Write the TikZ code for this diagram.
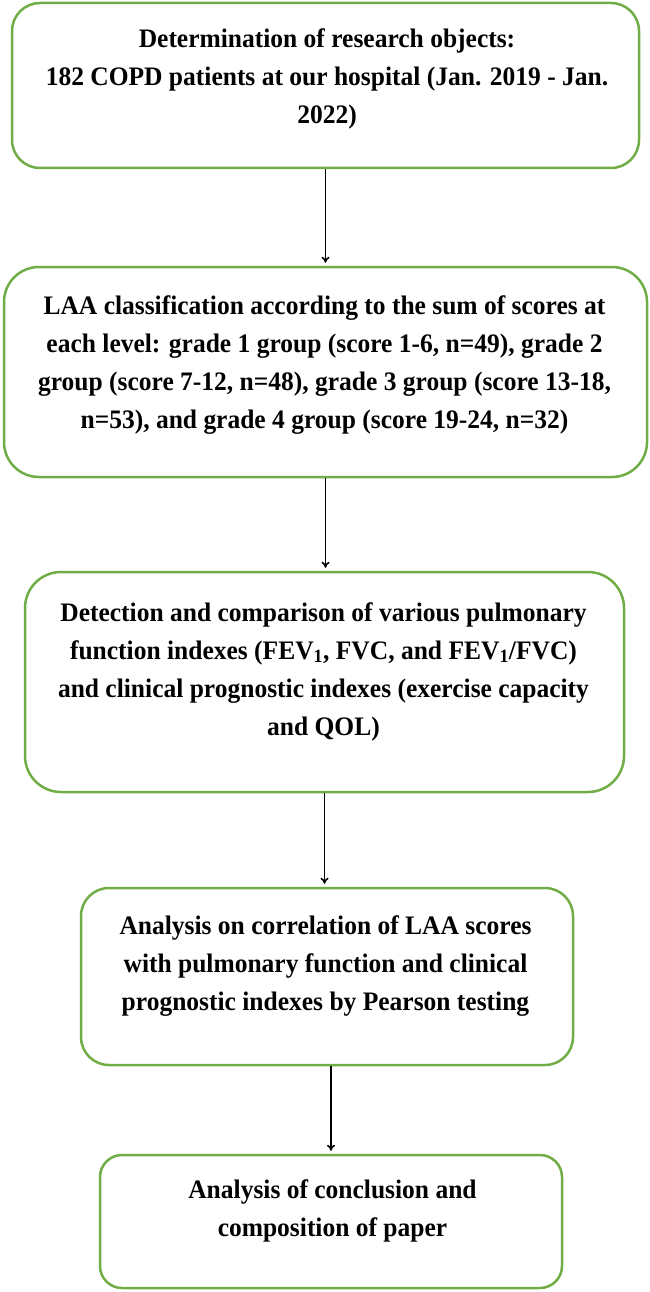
\documentclass[tikz,border=0pt]{standalone}
\usepackage{fontspec}
\setmainfont[FakeStretch=0.955]{Liberation Serif}
\usetikzlibrary{arrows.meta,positioning}

\begin{document}
\begin{tikzpicture}
			\definecolor{boxGreen}{RGB}{112, 173, 71}
			\tikzstyle{stage}=[rectangle, draw, color=boxGreen, line width=2.5pt, rounded corners=28pt, inner sep=0pt]
			\tikzstyle{words}=[align=center, inner sep=0pt, font=\fontsize{26.7pt}{38pt}\selectfont\bfseries]

			\useasboundingbox (0pt,0pt) rectangle (650pt,-1292pt);

			\node [stage, minimum width=627pt, minimum height=165pt, xshift=325.5pt, yshift=-85.5pt] (a) {};
			\node [stage, minimum width=643pt, minimum height=210pt, rounded corners=35pt, xshift=325.5pt, yshift=-372pt] (b) {};
			\node [stage, minimum width=599pt, minimum height=220pt, rounded corners=36pt, xshift=324.5pt, yshift=-682pt] (c) {};
			\node [stage, minimum width=492pt, minimum height=177pt, xshift=327pt, yshift=-976.5pt] (d) {};
			\node [stage, minimum width=462pt, minimum height=133pt, rounded corners=22pt, xshift=331pt, yshift=-1221.5pt] (e) {};

			\node [words, xshift=327pt, yshift=-79pt] (A) {Determination of research objects:\\182 COPD patients at our hospital (Jan. 2019 - Jan.\\2022)};
			\node [words, xshift=324.5pt, yshift=-365.5pt] (B) {LAA classification according to the sum of scores at\\each level: grade 1 group (score 1-6, n=49), grade 2\\group (score 7-12, n=48), grade 3 group (score 13-18,\\n=53), and grade 4 group (score 19-24, n=32)};
			\node [words, xshift=323.5pt, yshift=-671.5pt] (C) {Detection and comparison of various pulmonary\\function indexes (FEV\textsubscript{1}, FVC, and FEV\textsubscript{1}/FVC)\\and clinical prognostic indexes (exercise capacity\\and QOL)};
			\node [words, xshift=325.5pt, yshift=-966pt] (D) {Analysis on correlation of LAA scores\\with pulmonary function and clinical\\prognostic indexes by Pearson testing};
			\node [words, xshift=332.5pt, yshift=-1211pt] (E) {Analysis of conclusion and\\composition of paper};

			\path[-{To[length=6pt,width=8pt]}, line width=1.6pt, shorten >=3pt]
			(a.south) edge (a.south |- b.north)
			(b.south) edge (b.south |- c.north)
			(c.south) edge (c.south |- d.north)
			(e.north |- d.south) edge (e.north);
		\end{tikzpicture}
\end{document}
